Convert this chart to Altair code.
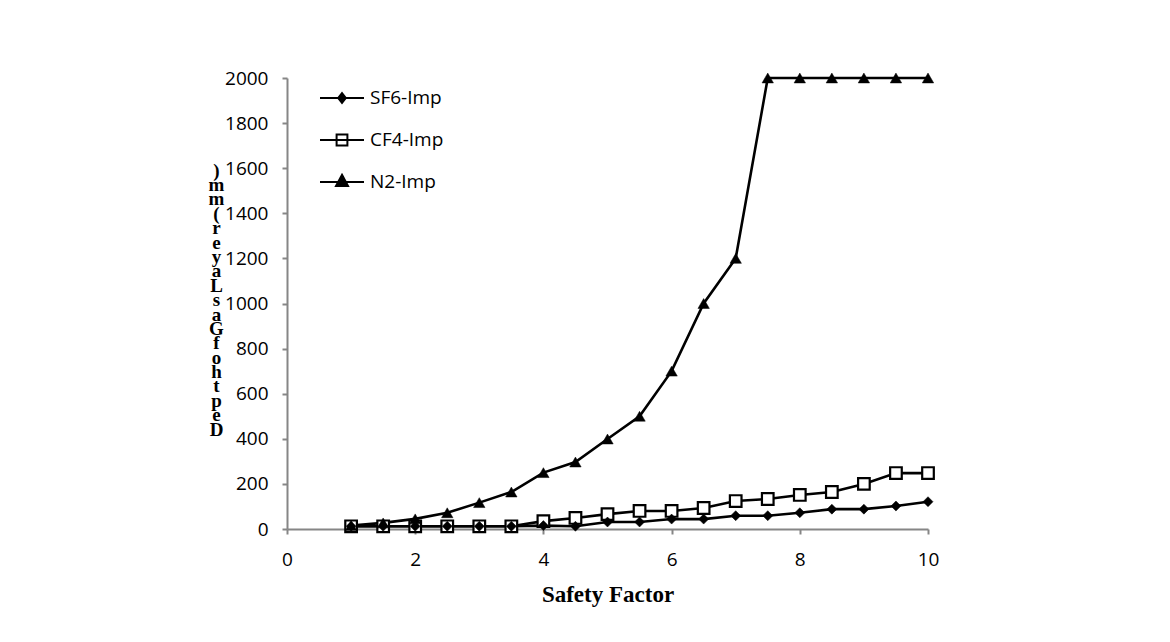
import altair as alt
import pandas as pd

safety_factor = [1, 1.5, 2, 2.5, 3, 3.5, 4, 4.5, 5, 5.5, 6, 6.5, 7, 7.5, 8, 8.5, 9, 9.5, 10]
sf6_imp = [12, 12, 12, 12, 12, 12, 15, 12, 31, 31, 44, 44, 59, 59, 72, 88, 88, 102, 121]
cf4_imp = [12, 12, 12, 12, 12, 12, 35, 49, 66, 80, 80, 93, 124, 133, 151, 164, 200, 248, 248]
n2_imp = [15, 27, 45, 72, 117, 164, 250, 297, 399, 500, 700, 1000, 1200, 2000, 2000, 2000, 2000, 2000, 2000]

series_names = ["SF6-Imp", "CF4-Imp", "N2-Imp"]
x_ticks = [0, 2, 4, 6, 8, 10]
y_ticks = [0, 200, 400, 600, 800, 1000, 1200, 1400, 1600, 1800, 2000]
y_title_letters = [")", "m", "m", "(", "r", "e", "y", "a", "L", "s", "a", "G", "f", "o", "h", "t", "p", "e", "D"]
x_title = "Safety Factor"

rows = []
for name, vals in [("CF4-Imp", cf4_imp), ("SF6-Imp", sf6_imp), ("N2-Imp", n2_imp)]:
    for x, v in zip(safety_factor, vals):
        rows.append({"sf": x, "depth": v, "series": name})
df = pd.DataFrame(rows)

legend_df = pd.DataFrame({"series": series_names})

x_enc = alt.X("sf:Q", scale=alt.Scale(domain=[0, 10], nice=False),
              axis=alt.Axis(values=x_ticks, title=x_title, grid=False, format="d",
                            labelFlush=False,
                            titleFont="Liberation Serif", titleFontWeight="bold",
                            titleFontSize=23, titleColor="black",
                            titleY=72, titleBaseline="alphabetic",
                            labelPadding=16))
y_enc = alt.Y("depth:Q", scale=alt.Scale(domain=[0, 2000], nice=False),
              axis=alt.Axis(values=y_ticks, title=y_title_letters, grid=False, format="d",
                            labelFlush=False,
                            titleAngle=0, titleX=-71, titleY=83,
                            titleAlign="center", titleBaseline="top",
                            titleFont="Liberation Serif", titleFontWeight="bold",
                            titleFontSize=19, titleLineHeight=14.4, titleColor="black",
                            labelPadding=14))

lines = alt.Chart(df).mark_line(color="black", strokeWidth=2.6).encode(
    x=x_enc, y=y_enc, detail="series:N", order="sf:Q"
)

cf4_pts = alt.Chart(df).transform_filter(alt.datum.series == "CF4-Imp").mark_point(
    shape="square", size=135, filled=True, fill="white", stroke="black", strokeWidth=2.2, opacity=1
).encode(x="sf:Q", y="depth:Q")

sf6_pts = alt.Chart(df).transform_filter(alt.datum.series == "SF6-Imp").mark_point(
    shape="diamond", size=100, filled=True, fill="black", stroke="black", strokeWidth=0.5, opacity=1
).encode(x="sf:Q", y="depth:Q")

n2_pts = alt.Chart(df).transform_filter(alt.datum.series == "N2-Imp").mark_point(
    shape="triangle-up", size=130, filled=True, fill="black", stroke="black", strokeWidth=0.5, opacity=1
).encode(x="sf:Q", y="depth:Q")

legend_paths = [
    "M-1.1,0H1.1M0,-0.24L0.19,0L0,0.24L-0.19,0Z",
    "M-1.1,0H1.1M-0.27,-0.27H0.27V0.27H-0.27Z",
    "M-1.1,0H1.1M0,-0.36L0.3,0.2L-0.3,0.2Z",
]
leg = alt.Legend(title=None, orient="none", legendX=34, legendY=-1, padding=0,
                 rowPadding=11, labelFont="Open Sans", labelFontSize=19,
                 labelColor="black", labelOffset=7, symbolSize=1600,
                 symbolStrokeColor="black", symbolStrokeWidth=2)

legend_layer = alt.Chart(legend_df).transform_filter("false").mark_point(
    filled=True, stroke="black", strokeWidth=2, size=1600, opacity=1
).encode(
    shape=alt.Shape("series:N", scale=alt.Scale(domain=series_names, range=legend_paths), legend=leg),
    fill=alt.Fill("series:N", scale=alt.Scale(domain=series_names, range=["black", "white", "black"]), legend=leg),
    stroke=alt.Stroke("series:N", scale=alt.Scale(domain=series_names, range=["black", "black", "black"]), legend=leg),
)

chart = alt.layer(lines, cf4_pts, sf6_pts, n2_pts, legend_layer).properties(
    width=641, height=451,
    autosize=alt.AutoSizeParams(type="none"),
    padding={"left": 279, "top": 70, "right": 234, "bottom": 105},
    background="white",
).configure_view(stroke=None).configure_axis(
    domainColor="#868686", domainWidth=2, tickColor="#868686", tickWidth=2, tickSize=5,
    labelFont="Open Sans", labelFontSize=19, labelColor="black",
)

chart.save("out.html", embed_options={"renderer": "svg", "actions": False})
